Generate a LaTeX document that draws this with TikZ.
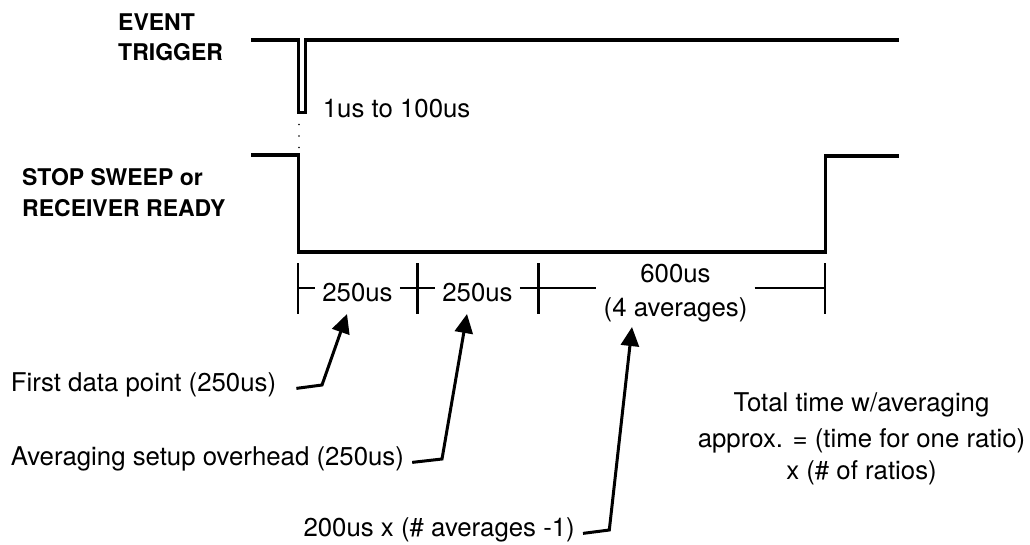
\documentclass[tikz,border=0pt]{standalone}
\usepackage{fontspec}
\setmainfont{TeX Gyre Heros}
\usetikzlibrary{arrows.meta}
\tikzset{
  sig/.style={line width=3.3pt, line join=miter},
  dimln/.style={line width=2.8pt},
  arr/.style={line width=3pt, line join=miter, -{Triangle[length=19pt,width=18pt]}},
  lbl/.style={font=\fontsize{23}{28}\selectfont\bfseries, inner sep=0pt},
  txt/.style={font=\fontsize{25.8}{31}\selectfont, inner sep=0pt},
  dimlbl/.style={txt, inner xsep=7pt, inner ysep=0pt},
  dotln/.style={line width=1.6pt, line cap=round, dash pattern=on 0pt off 11.5pt}
}
\begin{document}
\begin{tikzpicture}[x=1pt,y=-1pt]
\useasboundingbox (0,0) rectangle (1030,544);
% signal labels
\node[lbl, anchor=base west] (ev1) at (118,30) {EVENT};
\node[lbl, anchor=base west] (ev2) at (118,60) {TRIGGER};
\node[lbl, anchor=base west] (ss1) at (22,185) {STOP SWEEP or};
\node[lbl, anchor=base west] (ss2) at (22,216.5) {RECEIVER READY};
% waveforms
\draw[sig] (251,40) -- (298.3,40) -- (298.3,112.5) -- (305.2,112.5) -- (305.2,40) -- (899,40);
\draw[sig] (251,155) -- (298.5,155) -- (298.5,252) -- (825.7,252) -- (825.7,156) -- (899,156);
\coordinate (pb) at (299,124.5);
\coordinate (pe) at (299,148);
\draw[dotln] (pb) -- (pe);
\node[txt, anchor=base west] (pw) at (322.7,117.5) {1us to 100us};
% dimension line
\coordinate (k1) at (298,288);
\coordinate (k2) at (417.5,288);
\coordinate (k3) at (538.5,288);
\coordinate (k4) at (825,288);
\foreach \k in {k1,k2,k3,k4}
  \draw[dimln] ([yshift=25pt]\k) -- ([yshift=-26pt]\k);
\node[dimlbl, anchor=base] (l1) at (357.5,301.7) {250us};
\node[dimlbl, anchor=base] (l2) at (477.5,301.7) {250us};
\node[txt, anchor=base] (l3a) at (675.5,282) {600us};
\node[dimlbl, anchor=base] (l3b) at (675.5,316.5) {(4 averages)};
\draw[dimln] (k1) -- (l1.west |- k1);
\draw[dimln] (l1.east |- k1) -- (l2.west |- k2);
\draw[dimln] (l2.east |- k2) -- (l3b.west |- k3);
\draw[dimln] (l3b.east |- k3) -- (k4);
% annotations
\node[txt, anchor=base west] (fd) at (10.7,391) {First data point (250us)};
\node[txt, anchor=base west] (av) at (10.7,465) {Averaging setup overhead (250us)};
\node[txt, anchor=base east] (na) at (575,536) {200us x (\# averages -1)};
\coordinate (c1) at (322,385);
\coordinate (t1) at (347,314);
\coordinate (c2) at (442,459);
\coordinate (t2) at (467,314);
\coordinate (c3) at (609.3,530);
\coordinate (t3) at (632,327);
\draw[arr] ([xshift=20pt]fd.mid east) -- (c1) -- (t1);
\draw[arr] ([xshift=8pt]av.mid east) -- (c2) -- (t2);
\draw[arr] ([xshift=8pt]na.mid east) -- (c3) -- (t3);
% total time note
\node[txt, anchor=base] (tt1) at (861.5,411.5) {Total time w/averaging};
\node[txt, anchor=base] (tt2) at (861.5,447) {approx. = (time for one ratio)};
\node[txt, anchor=base] (tt3) at (861.5,479.5) {x (\# of ratios)};
\end{tikzpicture}
\end{document}
